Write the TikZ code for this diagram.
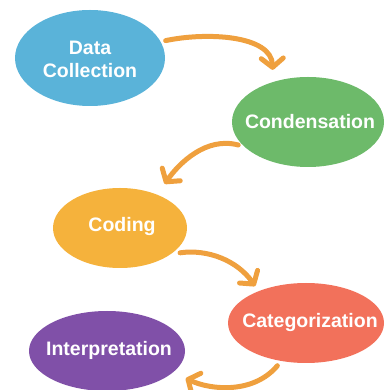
\documentclass[tikz,border=0pt]{standalone}
\usepackage{fontspec}
\setmainfont{Liberation Sans}
\usetikzlibrary{arrows.meta,shapes.geometric}
\definecolor{cBlue}{HTML}{5AB3D9}
\definecolor{cGreen}{HTML}{6DBA6A}
\definecolor{cYellow}{HTML}{F5B23C}
\definecolor{cCoral}{HTML}{F2715B}
\definecolor{cPurple}{HTML}{8050A8}
\definecolor{cArrow}{HTML}{EFA03E}
\tikzset{
  stage/.style={ellipse, inner sep=0pt},
  stagetext/.style={text=white, inner sep=0pt, font=\fontsize{19.5}{23}\selectfont\bfseries, align=center},
  flow/.style={draw=cArrow, line width=5pt, line cap=round,
    -{Straight Barb[length=9pt, width=22pt, line width=5pt, round]}},
}
\begin{document}
\begin{tikzpicture}[x=1pt,y=1pt]
\useasboundingbox (0,0) rectangle (384,390);
\begin{scope}
\clip (0,0) rectangle (384,390);
\node[stage, fill=cBlue, minimum width=150pt, minimum height=96pt] (dc) at (90,332) {};
\node[stage, fill=cGreen, minimum width=152pt, minimum height=90pt] (cond) at (308,268) {};
\node[stage, fill=cYellow, minimum width=134pt, minimum height=80pt] (cod) at (120,162) {};
\node[stage, fill=cCoral, minimum width=156pt, minimum height=80pt] (cat) at (306,67) {};
\node[stage, fill=cPurple, minimum width=156pt, minimum height=80pt] (int) at (107,39) {};
\end{scope}
\node[stagetext] (dct) at (90,331) {Data\\Collection};
\node[stagetext] (condt) at (310,268) {Condensation};
\node[stagetext] (codt) at (122,163) {Coding};
\node[stagetext] (catt) at (310,67) {Categorization};
\node[stagetext] (intt) at (109,40) {Interpretation};
\draw[flow, shorten <=5pt, shorten >=12pt] (dc.13) to[out=12, in=92] (cond.131);
\draw[flow, shorten <=6pt, shorten >=13pt] (cond.201) to[out=165, in=55] (cod.42);
\draw[flow, shorten <=9pt, shorten >=6pt] (cod.-27) to[out=8, in=125] (cat.146);
\draw[flow, shorten <=6pt, shorten >=14pt] (cat.237) to[out=230, in=-25] (int.-18);
\end{tikzpicture}
\end{document}
